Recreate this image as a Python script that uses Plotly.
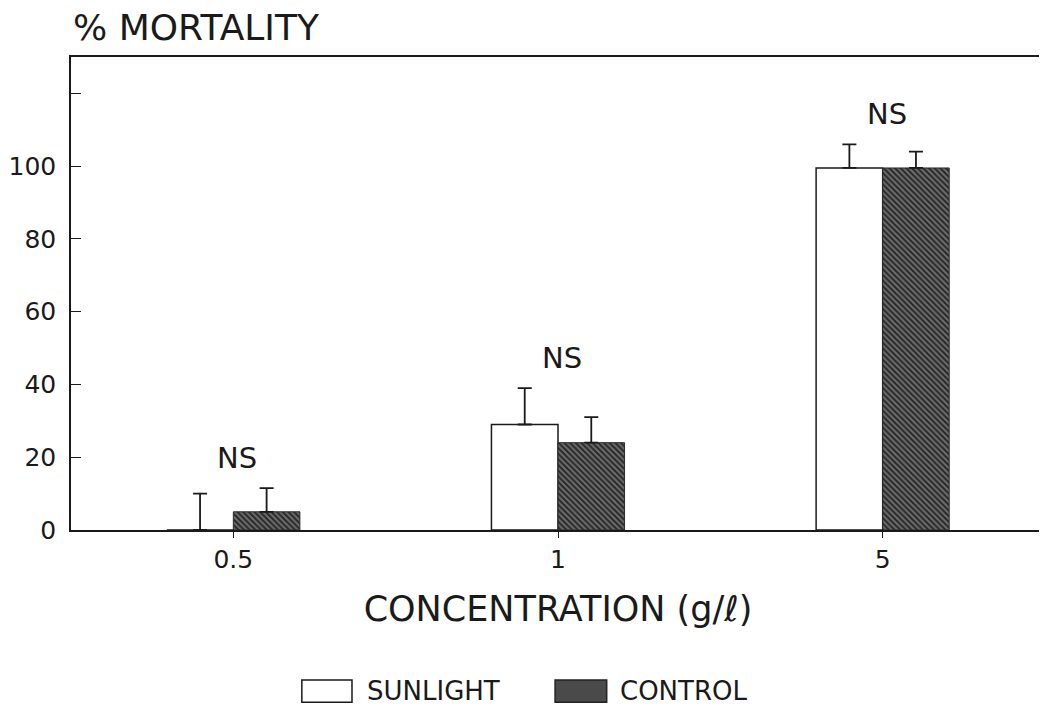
import plotly.graph_objects as go

categories = ["0.5", "1", "5"]
sunlight = [0, 29, 99.5]
sunlight_err = [10, 10, 6.5]
control = [5, 24, 99.5]
control_err = [6.5, 7, 4.5]
ns_labels = ["NS", "NS", "NS"]
y_ticks = [0, 20, 40, 60, 80, 100, 120]
y_ticktext = ["0", "20", "40", "60", "80", "100", ""]

FONT = "DejaVu Sans, Liberation Sans, Arial, sans-serif"
INK = "#1a1a1a"

fig = go.Figure()
fig.add_trace(go.Bar(
    x=categories, y=sunlight, name="SUNLIGHT",
    marker=dict(color="white", line=dict(color=INK, width=1.5)),
    error_y=dict(type="data", array=sunlight_err, arrayminus=[0, 0, 0],
                 symmetric=False, color=INK, thickness=1.8, width=7),
))
fig.add_trace(go.Bar(
    x=categories, y=control, name="CONTROL",
    marker=dict(color="#5a5a5a", line=dict(color="#2a2a2a", width=1),
                pattern=dict(shape="\\", fgcolor="#222222", bgcolor="#6a6a6a",
                             size=4, solidity=0.45, fillmode="replace")),
    error_y=dict(type="data", array=control_err, arrayminus=[0, 0, 0],
                 symmetric=False, color=INK, thickness=1.8, width=7),
))

# NS labels above each group (x given as category index)
for i, c in enumerate(categories):
    top = max(sunlight[i] + sunlight_err[i], control[i] + control_err[i])
    fig.add_annotation(x=i, y=top + 3, xref="x", yref="y", text=ns_labels[i],
                       showarrow=False, yanchor="bottom", xshift=4,
                       font=dict(family=FONT, size=29, color=INK))

# y-axis title at top-left
fig.add_annotation(x=0, y=1.063, xref="paper", yref="paper", text="% MORTALITY",
                   showarrow=False, xanchor="left", yanchor="middle",
                   font=dict(family=FONT, size=36, color=INK))

# custom legend
fig.add_shape(type="rect", xref="paper", yref="paper", x0=0.237, x1=0.2885,
              y0=-0.364, y1=-0.317, fillcolor="white", line=dict(color=INK, width=1.5))
fig.add_annotation(x=0.302, y=-0.340, xref="paper", yref="paper", text="SUNLIGHT",
                   showarrow=False, xanchor="left", yanchor="middle",
                   font=dict(family=FONT, size=26, color=INK))
fig.add_shape(type="rect", xref="paper", yref="paper", x0=0.497, x1=0.550,
              y0=-0.364, y1=-0.317, fillcolor="#4a4a4a", line=dict(color="#222", width=1.5))
fig.add_annotation(x=0.5616, y=-0.340, xref="paper", yref="paper", text="CONTROL",
                   showarrow=False, xanchor="left", yanchor="middle",
                   font=dict(family=FONT, size=26, color=INK))

fig.update_layout(
    width=1047, height=711,
    margin=dict(l=63, r=10, t=49, b=189, autoexpand=False),
    paper_bgcolor="white", plot_bgcolor="white",
    barmode="group", bargap=0.59, bargroupgap=0,
    showlegend=False,
    font=dict(family=FONT, color=INK),
)
fig.update_xaxes(
    type="category", range=[-0.5, 2.5],
    showline=True, linecolor=INK, linewidth=1.5, mirror=True,
    ticks="outside", ticklen=6, tickcolor=INK,
    tickfont=dict(family=FONT, size=25, color=INK),
    title=dict(text="CONCENTRATION (g/ℓ)", font=dict(family=FONT, size=35, color=INK), standoff=24),
    showgrid=False,
)
fig.update_yaxes(
    range=[0, 130], tickvals=y_ticks, ticktext=y_ticktext,
    showline=True, linecolor=INK, linewidth=1.5, mirror=True,
    ticks="inside", ticklen=10, tickcolor=INK,
    tickfont=dict(family=FONT, size=25, color=INK),
    ticklabelstandoff=8,
    showgrid=False, zeroline=False,
)

fig.write_html("out.html")
